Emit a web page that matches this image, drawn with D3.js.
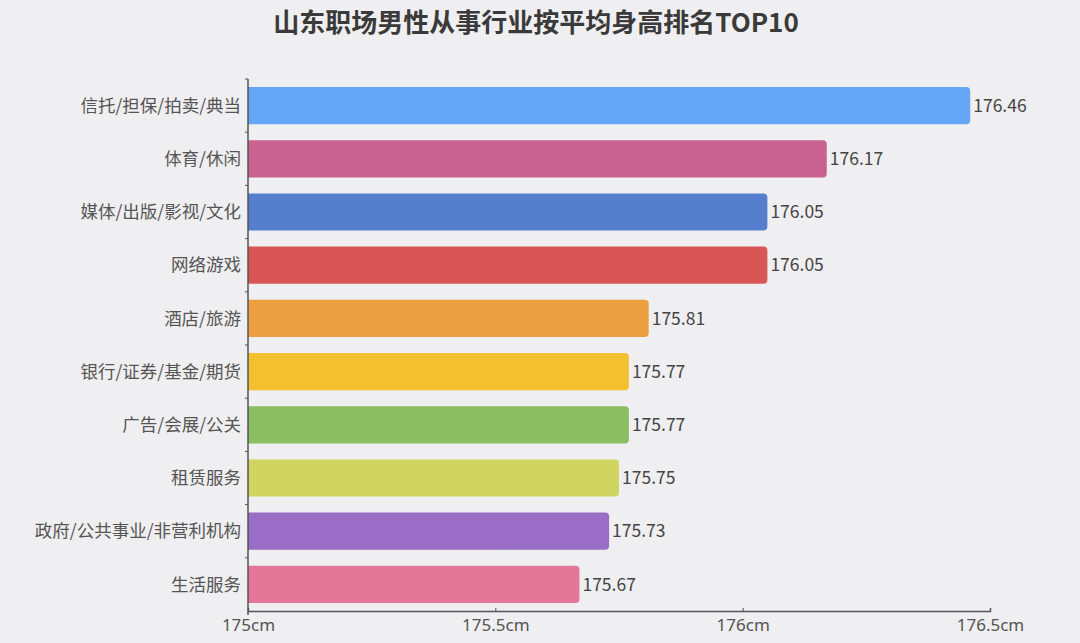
<!DOCTYPE html>
<html>
<head>
<meta charset="utf-8">
<script src="https://cdn.jsdelivr.net/npm/d3@7"></script>
<style>
  html, body { margin: 0; padding: 0; background: #efeef0; }
  svg { display: block; font-family: "Noto Sans CJK SC", "Noto Sans", sans-serif; }
  .axis path, .axis line { stroke: #555; }
  .axis text { fill: #555; }
</style>
</head>
<body>
<div id="chart"></div>
<script>
// data
const industries = ["信托/担保/拍卖/典当", "体育/休闲", "媒体/出版/影视/文化", "网络游戏", "酒店/旅游",
    "银行/证券/基金/期货", "广告/会展/公关", "租赁服务", "政府/公共事业/非营利机构", "生活服务"];
const heights = [176.46, 176.17, 176.05, 176.05, 175.81, 175.77, 175.77, 175.75, 175.73, 175.67];
const barColors = ["#66a6f6", "#c9628f", "#557fcc", "#d85756", "#eb9f41", "#f3c12f",
    "#8bbd62", "#cfd560", "#9a6dc6", "#e27799"];
const xTicks = [175, 175.5, 176, 176.5];

const width = 1080, height = 643;
const margin = {top: 79, right: 90, bottom: 32, left: 248};

const svg = d3.select("#chart").append("svg")
    .attr("width", width)
    .attr("height", height);

// title
svg.append("text")
    .attr("x", 536)
    .attr("y", 32)
    .attr("text-anchor", "middle")
    .attr("font-size", 26)
    .attr("font-weight", "bold")
    .attr("fill", "#3a3a3a")
    .text("山东职场男性从事行业按平均身高排名TOP10");

const x = d3.scaleLinear()
    .domain([175, 176.5])
    .range([margin.left, 990]);

const y = d3.scaleBand()
    .domain(industries)
    .range([margin.top, height - margin.bottom])
    .paddingInner(0.3)
    .paddingOuter(0.15);

const rows = industries.map((d, i) => ({name: d, value: heights[i], color: barColors[i]}));

// bars, right end rounded
const r = 4;
svg.append("g").selectAll("path")
    .data(rows)
    .enter().append("path")
    .attr("fill", d => d.color)
    .attr("d", d => {
        const x0 = x(175), x1 = x(d.value), y0 = y(d.name), h = y.bandwidth();
        return `M${x0},${y0}H${x1 - r}Q${x1},${y0} ${x1},${y0 + r}V${y0 + h - r}Q${x1},${y0 + h} ${x1 - r},${y0 + h}H${x0}Z`;
    });

// value labels
svg.append("g").selectAll("text")
    .data(rows)
    .enter().append("text")
    .attr("x", d => x(d.value) + 3)
    .attr("y", d => y(d.name) + y.bandwidth() / 2)
    .attr("dy", "0.35em")
    .attr("font-size", 17.5)
    .attr("fill", "#444")
    .text(d => d.value.toFixed(2));

// left axis: ticks between categories
const yAxis = svg.append("g")
    .attr("class", "axis");
yAxis.append("line")
    .attr("x1", margin.left).attr("x2", margin.left)
    .attr("y1", margin.top).attr("y2", height - margin.bottom + 4)
    .attr("stroke-width", 1.5);
const step = y.step();
yAxis.selectAll("line.tk")
    .data(d3.range(industries.length))
    .enter().append("line")
    .attr("class", "tk")
    .attr("x1", margin.left - 3).attr("x2", margin.left)
    .attr("y1", i => margin.top + i * step)
    .attr("y2", i => margin.top + i * step);
yAxis.selectAll("text")
    .data(industries)
    .enter().append("text")
    .attr("x", margin.left - 7)
    .attr("y", d => y(d) + y.bandwidth() / 2)
    .attr("dy", "0.35em")
    .attr("text-anchor", "end")
    .attr("font-size", 17.5)
    .text(d => d);

// bottom axis
const xAxis = svg.append("g")
    .attr("class", "axis")
    .attr("transform", `translate(0,${height - margin.bottom})`)
    .call(d3.axisTop(x).tickValues(xTicks).tickSize(3).tickFormat(d => d + "cm"));
xAxis.select(".domain").attr("stroke-width", 1.5);
xAxis.selectAll("text")
    .attr("y", 14)
    .attr("dy", "0.35em")
    .attr("font-size", 17)
    .attr("font-family", "\"Noto Sans\", sans-serif");
</script>
</body>
</html>
